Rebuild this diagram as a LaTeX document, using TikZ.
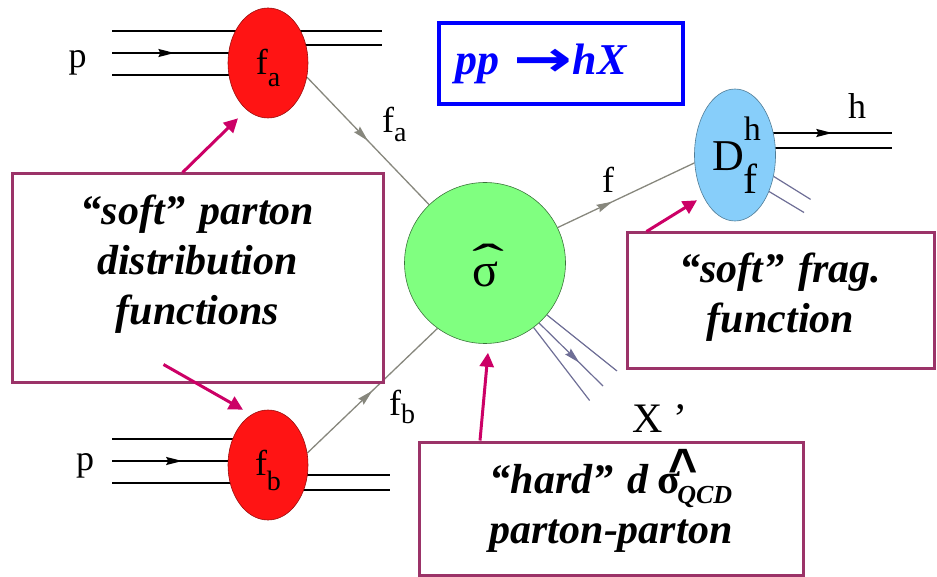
\documentclass[tikz,border=0pt]{standalone}
\usepackage{fontspec}
\setmainfont{Liberation Serif}
\setsansfont{Liberation Sans}
\newfontfamily\arrowfont{DejaVu Sans}
\usepackage{graphicx}
\usetikzlibrary{shapes.geometric,arrows.meta,decorations.markings,calc,backgrounds}
\definecolor{boxpurple}{RGB}{155,51,104}
\definecolor{magarrow}{RGB}{204,0,102}
\definecolor{redblob}{RGB}{255,20,20}
\definecolor{greenblob}{RGB}{128,255,128}
\definecolor{blueblob}{RGB}{135,206,250}
\definecolor{partongray}{RGB}{135,135,125}
\definecolor{jetgray}{RGB}{110,110,150}
\definecolor{titleblue}{RGB}{0,0,255}
\tikzset{
  midarrow/.style={postaction={decorate},decoration={markings,mark=at position #1 with {\arrow{Stealth[length=16pt,width=8pt,inset=2pt]}}}},
  hadronline/.style={black,line width=1.5pt},
  partonline/.style={partongray,line width=1.3pt},
  jetline/.style={jetgray,line width=1.2pt},
  blob/.style={ellipse,inner sep=0pt,minimum width=80pt,minimum height=110pt,draw=#1!60!black,line width=0.6pt,fill=#1},
  notebox/.style={draw=boxpurple,line width=3pt,inner sep=0pt,align=center,font=\fontsize{42}{50}\selectfont\bfseries\itshape},
  pointer/.style={magarrow,line width=3pt,-{Triangle[length=14pt,width=14pt]}},
  lbl/.style={font=\fontsize{36}{36}\selectfont,inner sep=0pt},
}
\begin{document}
\begin{tikzpicture}[x=1pt,y=-1pt]
\useasboundingbox (0,0) rectangle (937,577);

% blobs
\node[blob=redblob, lbl, text height=37pt, text depth=13pt] (fa) at (268,63)
  {f\raisebox{-12pt}{\fontsize{28}{28}\selectfont a}};
\node[blob=redblob, lbl, text height=37pt, text depth=17pt] (fb) at (268,465)
  {f\raisebox{-15pt}{\fontsize{28}{28}\selectfont b}};
\node[circle, minimum size=161pt, inner sep=0pt, fill=greenblob, draw=greenblob!45!black,
      line width=0.6pt, text height=48pt, text depth=0pt,
      font=\fontsize{48}{48}\selectfont] (sig) at (485,263)
  {\rlap{\raisebox{9pt}{\scalebox{2}[1]{ˆ}}}σ};
\node[blob=blueblob, minimum width=81pt, minimum height=132pt,
      font=\fontsize{44}{44}\selectfont] (D) at (735,155)
  {D\rlap{\raisebox{30pt}{\fontsize{34}{34}\selectfont h}}\raisebox{-23pt}{\fontsize{42}{42}\selectfont f}};

% title box
\node[draw=titleblue, line width=3.5pt, text width=212pt, inner xsep=16pt, inner ysep=0pt,
      minimum height=81pt, align=left, text=titleblue,
      font=\fontsize{44}{44}\selectfont\bfseries\itshape] (title) at (561,63.5)
  {pp {\arrowfont\upshape\bfseries\raisebox{-2pt}{\scalebox{1.6}[1.15]{→}}}hX};

% note boxes
\node[notebox, text width=371pt, text height=51pt, text depth=157pt] (lbox) at (197.5,278)
  {“soft” parton\\distribution\\functions};
\node[notebox, text width=307pt, text height=50pt, text depth=85pt] (rbox) at (780.5,300.5)
  {“soft” frag.\\function};
\node[notebox, text width=384pt, text height=51pt, text depth=82pt] (hbox) at (611,508.5)
  {“hard” d\hspace{9pt}\rlap{\raisebox{7pt}{\hspace{11pt}\fontsize{30}{30}\selectfont\sffamily\bfseries\upshape\scalebox{1.67}[1.8]{\textasciicircum}}}{\upshape σ}\hspace{-3pt}\raisebox{-10pt}{\fontsize{26}{26}\selectfont QCD}\\parton-parton};

% labels
\node[lbl, anchor=base] (pA) at (77.5,68) {p};
\node[lbl, anchor=base] (pB) at (85,470) {p};
\node[lbl, anchor=base west] (faL) at (382,133) {f\raisebox{-9pt}{\fontsize{28}{28}\selectfont a}};
\node[lbl, anchor=base west] (fbL) at (389,415) {f\raisebox{-8pt}{\fontsize{28}{28}\selectfont b}};
\node[lbl, anchor=base] (fL) at (608,193) {f};
\node[lbl, anchor=base] (hL) at (857,119) {h};
\node[lbl, anchor=base west, font=\fontsize{42}{42}\selectfont] (XL) at (632,432) {X ’};

% free ends
\coordinate (pa1) at (112,31);
\coordinate (pa2) at (112,53);
\coordinate (pa3) at (112,75);
\coordinate (ra1) at (382,31);
\coordinate (ra2) at (382,45);
\coordinate (pb1) at (112,439);
\coordinate (pb2) at (112,461);
\coordinate (pb3) at (112,483);
\coordinate (rb1) at (390,475);
\coordinate (rb2) at (390,490);
\coordinate (hd1) at (892,133);
\coordinate (hd2) at (892,148);

\begin{pgfonlayer}{background}
  \draw[hadronline] (pa1) -- (ra1);
  \draw[hadronline, midarrow=0.40] (pa2) -- (pa2 -| fa.center);
  \draw[hadronline] (pa3) -- (pa3 -| fa.center);
  \draw[hadronline] (ra2 -| fa.center) -- (ra2);
  \draw[hadronline] (pb1) -- (pb1 -| fb.center);
  \draw[hadronline, midarrow=0.45] (pb2) -- (pb2 -| fb.center);
  \draw[hadronline] (pb3) -- (pb3 -| fb.center);
  \draw[hadronline] (rb1 -| fb.center) -- (rb1);
  \draw[hadronline] (rb2 -| fb.center) -- (rb2);
  \draw[hadronline, midarrow=0.62] (hd1 -| D.center) -- (hd1);
  \draw[hadronline] (hd2 -| D.center) -- (hd2);
  \draw[jetline] (D.-29) -- ++(37,23);
  \draw[jetline] (D.-47) -- ++(35,21);
  \draw[jetline] (sig.-53) -- ++(56,73);
  \draw[jetline, midarrow=0.63] (sig.-48) -- ++(64,63);
  \draw[jetline] (sig.-40) -- ++(70,56);
  \draw[partonline, midarrow=0.5] (fa.-20) -- (sig);
  \draw[partonline, midarrow=0.5] (fb.17) -- (sig.234);
  \draw[partonline, midarrow=0.4] (sig.26) -- (D.191);
\end{pgfonlayer}

% pointers
\draw[pointer] ($(lbox.north west)!0.46!(lbox.north east)$) -- ($(fa.south)+(-30,0)$);
\draw[pointer] ($(lbox.south west)+(153,-19)$) -- ($(fb.north)+(-25,0)$);
\draw[pointer] ($(rbox.north west)+(21,0)$) -- ($(D.south)+(-38,-21)$);
\draw[pointer] ($(hbox.north)+(-131,0)$) -- ($(sig.south)+(3,9)$);
\end{tikzpicture}
\end{document}
